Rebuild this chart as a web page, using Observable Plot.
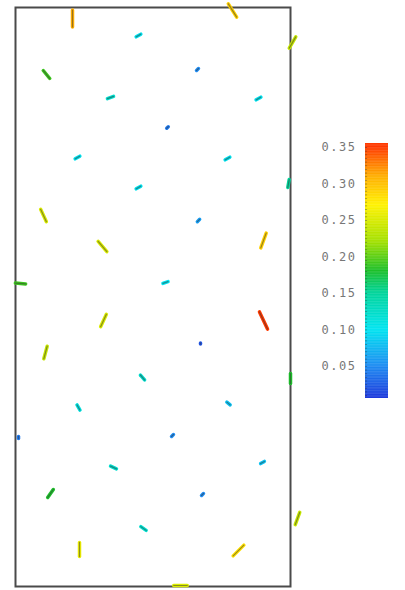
<!DOCTYPE html>
<html><head><meta charset="utf-8">
<script src="https://cdn.jsdelivr.net/npm/d3@7"></script>
<script src="https://cdn.jsdelivr.net/npm/@observablehq/plot@0.6"></script>
<style>
html,body{margin:0;padding:0;background:#fff;}
#wrap{position:relative;width:405px;height:590px;}
#wrap svg{position:absolute;left:0;top:0;}
</style></head>
<body><div id="wrap"></div>
<script>
// vector field samples: position (x, y), magnitude, direction (deg clockwise from up)
const xs   = [0.57,1.23,2.17,2.77,0.31,1.82,0.95,2.43,1.52,0.62,2.12,1.23,2.73,0.28,1.83,0.87,2.48,0.05,1.50,0.88,2.48,0.30,1.85,1.27,2.75,0.63,2.13,0.03,1.57,0.98,2.47,0.35,1.87,1.28,2.82,0.64,2.23,1.65];
const ys   = [5.68,5.51,5.76,5.44,5.12,5.17,4.89,4.88,4.59,4.29,4.28,3.99,4.03,3.71,3.66,3.40,3.46,3.03,3.04,2.66,2.66,2.34,2.43,2.09,2.08,1.79,1.83,1.49,1.51,1.19,1.24,0.93,0.92,0.58,0.68,0.37,0.36,0.01];
const mags = [0.31,0.10,0.29,0.24,0.19,0.05,0.12,0.10,0.04,0.10,0.10,0.10,0.15,0.25,0.06,0.25,0.29,0.19,0.10,0.25,0.35,0.24,0.02,0.12,0.18,0.11,0.08,0.04,0.05,0.12,0.08,0.18,0.05,0.12,0.24,0.26,0.28,0.25];
const dirs = [0,60,148,30,141,45,70,60,45,60,60,60,10,155,45,140,20,95,70,25,155,15,0,140,0,150,130,0,45,115,60,35,45,125,20,0,45,90];

// colour bar
const colorStops  = [0, 0.05, 0.10, 0.15, 0.18, 0.22, 0.27, 0.31, 0.35];
const colorRange  = ["#1f2fd8","#1e8cf2","#00e4f0","#00d49a","#1cbf2a","#a2e000","#fff200","#ffae00","#ff3a00"];
const barTicks    = [0.05,0.10,0.15,0.20,0.25,0.30,0.35];
const barDomain   = [0.006, 0.3555];

const data = xs.map((x,i)=>({x, y: ys[i], m: mags[i], a: dirs[i]}));
const colorScale = {type:"linear", domain: colorStops, range: colorRange, clamp:true};
const seg = {draw(ctx, l){ ctx.moveTo(0, l/2); ctx.lineTo(0, -l/2); }};

const main = Plot.plot({
  width:405, height:590,
  marginLeft:15, marginRight:115, marginTop:7, marginBottom:4,
  x:{domain:[0,2.75], axis:null},
  y:{domain:[0,5.79], axis:null},
  color: colorScale,
  length:{domain:[0,0.35], range:[0,19]},
  marks:[
    Plot.frame({stroke:"#4a4a4a", strokeWidth:2}),
    Plot.vector(data, {x:"x", y:"y", length:"m", rotate:"a", stroke:"m", shape:seg, anchor:"start", strokeWidth:3.5, strokeLinecap:"round"}),
    Plot.vector(data, {x:"x", y:"y", length:"m", rotate:"a", stroke:"#333", strokeOpacity:0.5, shape:seg, anchor:"start", strokeWidth:1.2, strokeLinecap:"round"})
  ]
});

const steps = d3.range(barDomain[0], barDomain[1], 0.001);
const bar = Plot.plot({
  width:405, height:590,
  marginLeft:365, marginRight:17, marginTop:143, marginBottom:192,
  x:{domain:[0,1], axis:null},
  y:{domain:barDomain},
  color: colorScale,
  style:{fontFamily:"DejaVu Sans Mono", fontSize:"12px", color:"#777"},
  marks:[
    Plot.rect(steps, {x1:0, x2:1, y1:d=>d, y2:d=>Math.min(d+0.0015, barDomain[1]), fill:d=>d}),
    Plot.axisY({anchor:"left", ticks:barTicks, tickFormat:d3.format(".2f"), tickSize:0, tickPadding:9, label:null, fill:"#777"}),
    Plot.ruleY(d3.range(0.01,0.355,0.005), {y:d=>d, x1:0, x2:0.09, stroke:"#222", strokeOpacity:0.35})
  ]
});
bar.querySelectorAll("text").forEach(t=>t.setAttribute("letter-spacing","1.5"));
document.getElementById("wrap").append(main, bar);
</script></body></html>
